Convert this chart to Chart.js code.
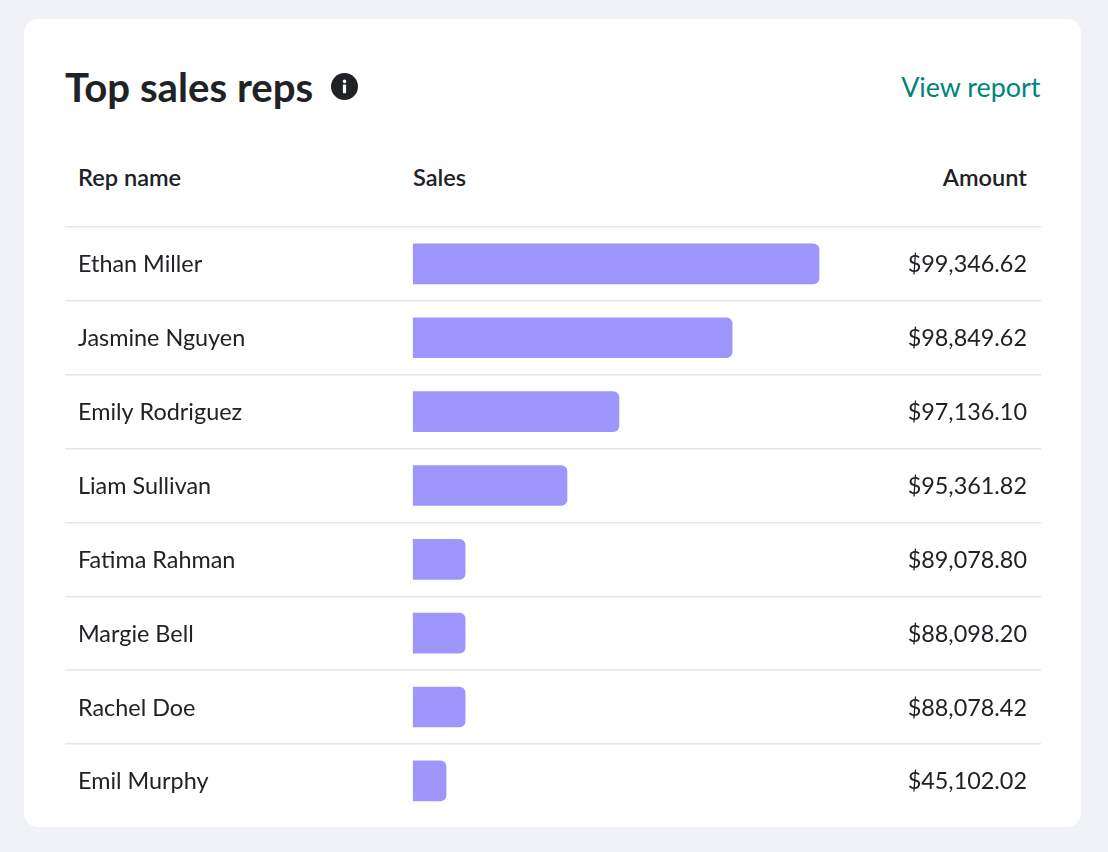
<!DOCTYPE html>
<html>
<head>
<meta charset="utf-8">
<title>Top sales reps</title>
<script src="https://cdn.jsdelivr.net/npm/chart.js@4"></script>
<style>
  html, body { margin: 0; height: 100%; background: #f0f2f8; overflow: hidden; }
  body { font-family: Lato, sans-serif; color: #212226; }
  .card { position: absolute; left: 24px; top: 19px; width: 1057px; height: 808px; background: #fff; border-radius: 14px; }
  .abs { position: absolute; white-space: nowrap; line-height: 1; }
  .title { left: 65px; top: 67px; font-size: 40.2px; font-weight: 700; }
  .info { left: 331px; top: 73px; width: 27px; height: 27px; }
  .link { right: 67.5px; top: 74px; font-size: 26.9px; color: #00857a; }
  .head { top: 165.5px; font-size: 23.6px; font-weight: 600; }
  .chart-box { position: absolute; left: 65px; top: 225px; width: 976px; height: 595px; }
</style>
</head>
<body>
<div class="card"></div>
<div class="abs title">Top sales reps</div>
<svg class="abs info" viewBox="0 0 27 27">
  <circle cx="13.5" cy="13.5" r="13.5" fill="#212226"/>
  <circle cx="13.5" cy="8.4" r="1.8" fill="#fff"/>
  <rect x="11.9" y="11.6" width="3.2" height="8.6" rx="0.6" fill="#fff"/>
</svg>
<div class="abs link">View report</div>
<div class="abs head" style="left:78px">Rep name</div>
<div class="abs head" style="left:413px">Sales</div>
<div class="abs head" style="right:81px">Amount</div>
<div class="chart-box"><canvas id="repsChart"></canvas></div>
<script>
const repNames = [
  "Ethan Miller",
  "Jasmine Nguyen",
  "Emily Rodriguez",
  "Liam Sullivan",
  "Fatima Rahman",
  "Margie Bell",
  "Rachel Doe",
  "Emil Murphy",
];
// bar length, as a share of the top rep
const salesShare = [100, 78.6, 50.7, 37.9, 12.8, 12.8, 12.8, 8.1];
const amounts = [
  99346.62, 98849.62, 97136.1, 95361.82, 89078.8, 88098.2, 88078.42, 45102.02,
];

const textColor = "#212226";
const rowFont = { family: "Lato", size: 23.4 };

function formatAmount(value) {
  return (
    "$" +
    value.toLocaleString("en-US", {
      minimumFractionDigits: 2,
      maximumFractionDigits: 2,
    })
  );
}

// mirrored labels sit over the plot, so these axes take up no room
function collapseAxis(scale) {
  scale.width = 0;
  scale.paddingTop = 0;
  scale.paddingBottom = 0;
  scale.paddingLeft = 0;
  scale.paddingRight = 0;
}

new Chart(document.getElementById("repsChart"), {
  type: "bar",
  data: {
    labels: repNames,
    datasets: [
      {
        data: salesShare,
        backgroundColor: "#9e96fa",
        barThickness: 40,
        borderSkipped: false,
        borderRadius: { topLeft: 0, bottomLeft: 0, topRight: 6, bottomRight: 6 },
      },
    ],
  },
  options: {
    indexAxis: "y",
    responsive: true,
    maintainAspectRatio: false,
    animation: false,
    // a little room above so the first rule is not cut by the canvas edge
    layout: { padding: { top: 2, bottom: 2.2 } },
    plugins: {
      legend: { display: false },
      tooltip: { enabled: false },
    },
    scales: {
      // the axis starts below zero so the name column sits left of the bars
      x: {
        min: -85.8,
        max: 154.7,
        display: false,
      },
      y: {
        afterFit: collapseAxis,
        grid: {
          offset: true,
          drawTicks: false,
          lineWidth: 1.5,
          // the closing line has no tick, and no rule is wanted under the last row
          color: (ctx) => (ctx.tick ? "#e5e6ec" : "transparent"),
        },
        border: { display: false },
        ticks: {
          mirror: true,
          padding: 13,
          labelOffset: 1,
          color: textColor,
          font: rowFont,
        },
      },
      amount: {
        type: "category",
        position: "right",
        labels: amounts.map(formatAmount),
        afterFit: collapseAxis,
        grid: { display: false, drawTicks: false },
        border: { display: false },
        ticks: {
          mirror: true,
          // a mirrored right axis adds its padding, so go negative to move inward
          padding: -14,
          labelOffset: 1,
          color: textColor,
          font: rowFont,
        },
      },
    },
  },
});
</script>
</body>
</html>
